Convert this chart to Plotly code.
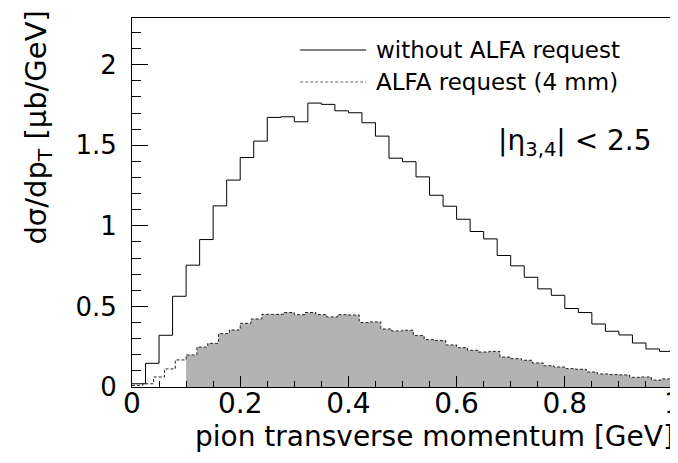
import plotly.graph_objects as go

# ---- data ----
# solid histogram: "without ALFA request", 40 bins over 0..1 GeV
solid_lo, solid_hi, solid_nbins = 0.0, 1.0, 40
solid_vals = [0.02, 0.147, 0.321, 0.563, 0.756, 0.915, 1.124, 1.284, 1.424, 1.526,
              1.673, 1.677, 1.646, 1.762, 1.754, 1.714, 1.702, 1.640, 1.557, 1.420,
              1.398, 1.304, 1.190, 1.122, 1.041, 0.965, 0.919, 0.816, 0.752, 0.681,
              0.609, 0.569, 0.487, 0.462, 0.391, 0.346, 0.323, 0.273, 0.236, 0.221]

# dashed histogram: "ALFA request (4 mm)", 50 bins over 0..1 GeV
dash_lo, dash_hi, dash_nbins = 0.0, 1.0, 50
dash_vals = [0.01, 0.02, 0.062, 0.112, 0.168, 0.199, 0.248, 0.271, 0.331, 0.354,
             0.395, 0.422, 0.451, 0.451, 0.462, 0.449, 0.462, 0.449, 0.435, 0.449,
             0.447, 0.400, 0.404, 0.360, 0.348, 0.352, 0.319, 0.294, 0.288, 0.261,
             0.244, 0.228, 0.217, 0.221, 0.186, 0.176, 0.166, 0.149, 0.132, 0.124,
             0.114, 0.110, 0.093, 0.081, 0.077, 0.075, 0.060, 0.062, 0.043, 0.050]
fill_from = 0.1  # shaded region starts here

legend_labels = ["without ALFA request", "ALFA request (4 mm)"]
x_title = "pion transverse momentum [GeV]"
y_title = "dσ/dp<sub>T</sub> [μb/GeV]"
cut_label = "|η<sub>3,4</sub>| < 2.5"

FONT = "DejaVu Sans"


def edges(lo, hi, n):
    w = (hi - lo) / n
    return [lo + i * w for i in range(n + 1)]


se = edges(solid_lo, solid_hi, solid_nbins)
de = edges(dash_lo, dash_hi, dash_nbins)

fig = go.Figure()

# shaded area under dashed histogram, from fill_from onwards
k0 = [i for i, e in enumerate(de) if e >= fill_from - 1e-9][0]
fx = de[k0:]
fy = dash_vals[k0:] + [dash_vals[-1]]
fig.add_trace(go.Scatter(x=fx, y=fy, mode="lines", line_shape="hv",
                         line=dict(width=0, color="rgba(0,0,0,0)"),
                         fill="tozeroy", fillcolor="#b3b3b3",
                         showlegend=False, hoverinfo="skip"))

fig.add_trace(go.Scatter(x=de, y=dash_vals + [dash_vals[-1]], mode="lines",
                         line_shape="hv",
                         line=dict(color="#222222", width=1, dash="3px,2px"),
                         showlegend=False))

fig.add_trace(go.Scatter(x=se, y=solid_vals + [solid_vals[-1]], mode="lines",
                         line_shape="hv", line=dict(color="black", width=1),
                         showlegend=False))

W, H = 678, 463
L, R, T, B = 124, 4, 10, 84
pw, ph = W - L - R, H - T - B


def px(x):
    return (x - L) / pw


def py(y):
    return (H - B - y) / ph


# legend drawn manually (ROOT-style long line samples)
leg_rows = [(42, dict(color="black", width=1)),
            (74, dict(color="#666666", width=1, dash="3px,2px"))]
for (yy, ln), lab in zip(leg_rows, legend_labels):
    fig.add_shape(type="line", xref="paper", yref="paper",
                  x0=px(295), x1=px(362), y0=py(yy), y1=py(yy), line=ln)
    fig.add_annotation(xref="paper", yref="paper", x=px(370), y=py(yy),
                       xanchor="left", yanchor="middle", text=lab,
                       showarrow=False,
                       font=dict(family=FONT, size=23, color="black"))

fig.add_annotation(xref="paper", yref="paper", x=px(655), y=py(134),
                   xanchor="right", yanchor="middle", text=cut_label,
                   showarrow=False, font=dict(family=FONT, size=28, color="black"))

fig.add_annotation(xref="paper", yref="paper", x=px(677), y=py(428),
                   xanchor="right", yanchor="middle", text=x_title,
                   showarrow=False, font=dict(family=FONT, size=28, color="black"))

fig.add_annotation(xref="paper", yref="paper", x=px(28), y=py(1),
                   xanchor="center", yanchor="top", text=y_title, textangle=-90,
                   showarrow=False, font=dict(family=FONT, size=29, color="black"))

fig.update_xaxes(range=[0, 1], dtick=0.2, tick0=0, ticks="inside", ticklen=11,
                 tickcolor="black", showline=True, linecolor="black", linewidth=1,
                 mirror=True, showgrid=False, zeroline=False,
                 ticklabeloverflow="allow", ticklabelstandoff=-9,
                 tickfont=dict(family=FONT, size=28, color="black"),
                 minor=dict(ticks="inside", ticklen=6, dtick=0.05,
                            tickcolor="black", showgrid=False))
fig.update_yaxes(range=[0, 2.29], dtick=0.5, tick0=0, ticks="inside", ticklen=16,
                 tickcolor="black", showline=True, linecolor="black", linewidth=1,
                 mirror=True, showgrid=False, zeroline=False,
                 ticklabeloverflow="allow", ticklabelstandoff=9,
                 tickfont=dict(family=FONT, size=26, color="black"),
                 minor=dict(ticks="inside", ticklen=8.5, dtick=0.1,
                            tickcolor="black", showgrid=False))

fig.update_layout(width=W, height=H, margin=dict(l=L, r=R, t=T, b=B),
                  paper_bgcolor="white", plot_bgcolor="white",
                  showlegend=False, font=dict(family=FONT))

fig.write_html("out.html")
